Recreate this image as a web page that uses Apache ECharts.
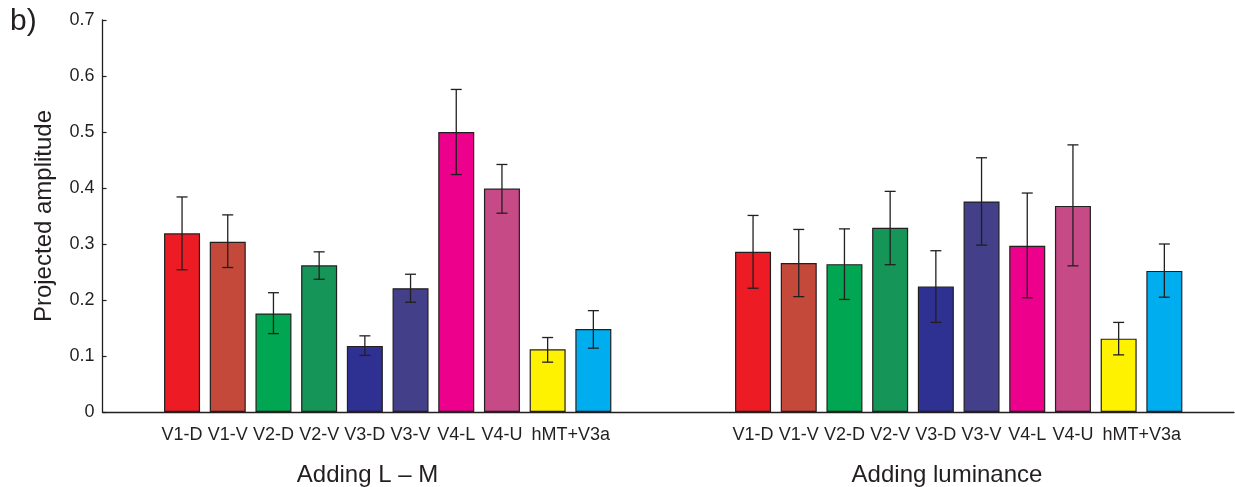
<!DOCTYPE html>
<html>
<head>
<meta charset="utf-8">
<script src="https://cdn.jsdelivr.net/npm/echarts@6/dist/echarts.min.js"></script>
<style>
  html, body { margin: 0; padding: 0; background: #fff; }
  #chart { width: 1235px; height: 487px; }
</style>
</head>
<body>
<div id="chart"></div>
<script>
// Visual areas (bars); the last two share one tick label
const areas = ['V1-D', 'V1-V', 'V2-D', 'V2-V', 'V3-D', 'V3-V', 'V4-L', 'V4-U', 'hMT+', 'V3a'];
const tickLabels = ['V1-D', 'V1-V', 'V2-D', 'V2-V', 'V3-D', 'V3-V', 'V4-L', 'V4-U', 'hMT+V3a', ''];
const areaColors = ['#ed1c24', '#c5493a', '#00a651', '#159658', '#2e3192', '#433f88', '#ec008c', '#c64a86', '#fff200', '#00aeef'];

// Condition: Adding L – M
const lmMean  = [0.319, 0.304, 0.176, 0.262, 0.118, 0.221, 0.500, 0.399, 0.112, 0.148];
const lmUpper = [0.384, 0.352, 0.213, 0.286, 0.136, 0.246, 0.576, 0.442, 0.133, 0.181];
const lmLower = [0.254, 0.258, 0.140, 0.237, 0.101, 0.196, 0.424, 0.355, 0.089, 0.114];

// Condition: Adding luminance
const lumMean  = [0.286, 0.266, 0.264, 0.329, 0.224, 0.376, 0.297, 0.368, 0.131, 0.252];
const lumUpper = [0.351, 0.326, 0.327, 0.394, 0.288, 0.454, 0.391, 0.477, 0.160, 0.300];
const lumLower = [0.221, 0.206, 0.201, 0.263, 0.160, 0.298, 0.204, 0.261, 0.102, 0.205];

const yTicks = [0, 0.1, 0.2, 0.3, 0.4, 0.5, 0.6, 0.7];
const groupNames = ['Adding L \u2013 M', 'Adding luminance'];
const yTitle = 'Projected amplitude';
const panelLabel = 'b)';

const ink = '#231f20';
const font = 'Liberation Sans, Arial, Helvetica, sans-serif';

const chart = echarts.init(document.getElementById('chart'), null, { renderer: 'canvas' });

function barSeries(gridIdx, values) {
  return {
    type: 'bar',
    xAxisIndex: gridIdx,
    yAxisIndex: gridIdx,
    barWidth: 36,
    data: values.map((v, i) => ({
      value: v,
      itemStyle: { color: areaColors[i], borderColor: ink, borderWidth: 1.2 }
    })),
    silent: true,
    animation: false
  };
}

function errorSeries(gridIdx, lower, upper) {
  return {
    type: 'custom',
    xAxisIndex: gridIdx,
    yAxisIndex: gridIdx,
    data: lower.map((lo, i) => [i, lo, upper[i]]),
    renderItem: function (params, api) {
      const lo = api.coord([api.value(0), api.value(1)]);
      const hi = api.coord([api.value(0), api.value(2)]);
      const half = 5.5;
      const style = { stroke: ink, lineWidth: 1.3, fill: null };
      return {
        type: 'group',
        children: [
          { type: 'line', shape: { x1: lo[0], y1: lo[1], x2: hi[0], y2: hi[1] }, style: style },
          { type: 'line', shape: { x1: hi[0] - half, y1: hi[1], x2: hi[0] + half, y2: hi[1] }, style: style },
          { type: 'line', shape: { x1: lo[0] - half, y1: lo[1], x2: lo[0] + half, y2: lo[1] }, style: style }
        ]
      };
    },
    z: 5,
    silent: true,
    animation: false
  };
}

function groupXAxis(gridIdx) {
  return {
    type: 'category',
    gridIndex: gridIdx,
    data: areas,
    axisLine: { show: false },
    axisTick: { show: false },
    axisLabel: {
      interval: 0,
      margin: 14,
      color: ink,
      fontFamily: font,
      fontSize: 18,
      formatter: function (v, i) {
        const t = tickLabels[i];
        if (t === 'hMT+V3a') return '{shift|' + t + '}';
        return t;
      },
      rich: {
        shift: { padding: [0, 0, 0, 46], fontSize: 18, fontFamily: font, color: ink }
      }
    }
  };
}

function hiddenYAxis(gridIdx) {
  return {
    type: 'value', gridIndex: gridIdx, min: 0, max: 0.7, interval: 0.1,
    show: false, splitLine: { show: false }
  };
}

const option = {
  backgroundColor: '#fff',
  animation: false,
  grid: [
    { left: 102.5, right: 1, top: 20, bottom: 75 },
    { left: 159.2, width: 457, top: 20, bottom: 75 },
    { left: 730.2, width: 457, top: 20, bottom: 75 }
  ],
  xAxis: [
    {
      type: 'value', gridIndex: 0, min: 0, max: 1,
      axisLine: { show: true, onZero: false, lineStyle: { color: ink, width: 1.3 } },
      axisTick: { show: false }, axisLabel: { show: false }, splitLine: { show: false }
    },
    groupXAxis(1),
    groupXAxis(2)
  ],
  yAxis: [
    {
      type: 'value', gridIndex: 0, min: 0, max: 0.7, interval: 0.1,
      axisLine: { show: true, lineStyle: { color: ink, width: 1.3 } },
      axisTick: { show: true, inside: true, length: 4, lineStyle: { color: ink, width: 1.2 } },
      axisLabel: {
        color: ink, fontFamily: font, fontSize: 18, margin: 8,
        formatter: function (v) {
          const k = yTicks.findIndex(t => Math.abs(t - v) < 1e-9);
          return k === 0 ? '0' : yTicks[k].toFixed(1);
        }
      },
      splitLine: { show: false },
      name: yTitle,
      nameLocation: 'middle',
      nameRotate: 90,
      nameGap: 46,
      nameTextStyle: { color: ink, fontFamily: font, fontSize: 24 }
    },
    hiddenYAxis(1),
    hiddenYAxis(2)
  ],
  graphic: [
    {
      type: 'text', left: 10, top: 7,
      style: { text: panelLabel, fill: ink, font: '30px ' + font }
    },
    {
      type: 'text', x: 367.5, y: 475,
      style: { text: groupNames[0], fill: ink, font: '24px ' + font, textAlign: 'center', textVerticalAlign: 'middle' }
    },
    {
      type: 'text', x: 947, y: 475,
      style: { text: groupNames[1], fill: ink, font: '24px ' + font, textAlign: 'center', textVerticalAlign: 'middle' }
    }
  ],
  series: [
    barSeries(1, lmMean),
    errorSeries(1, lmLower, lmUpper),
    barSeries(2, lumMean),
    errorSeries(2, lumLower, lumUpper)
  ]
};

chart.setOption(option);
</script>
</body>
</html>
